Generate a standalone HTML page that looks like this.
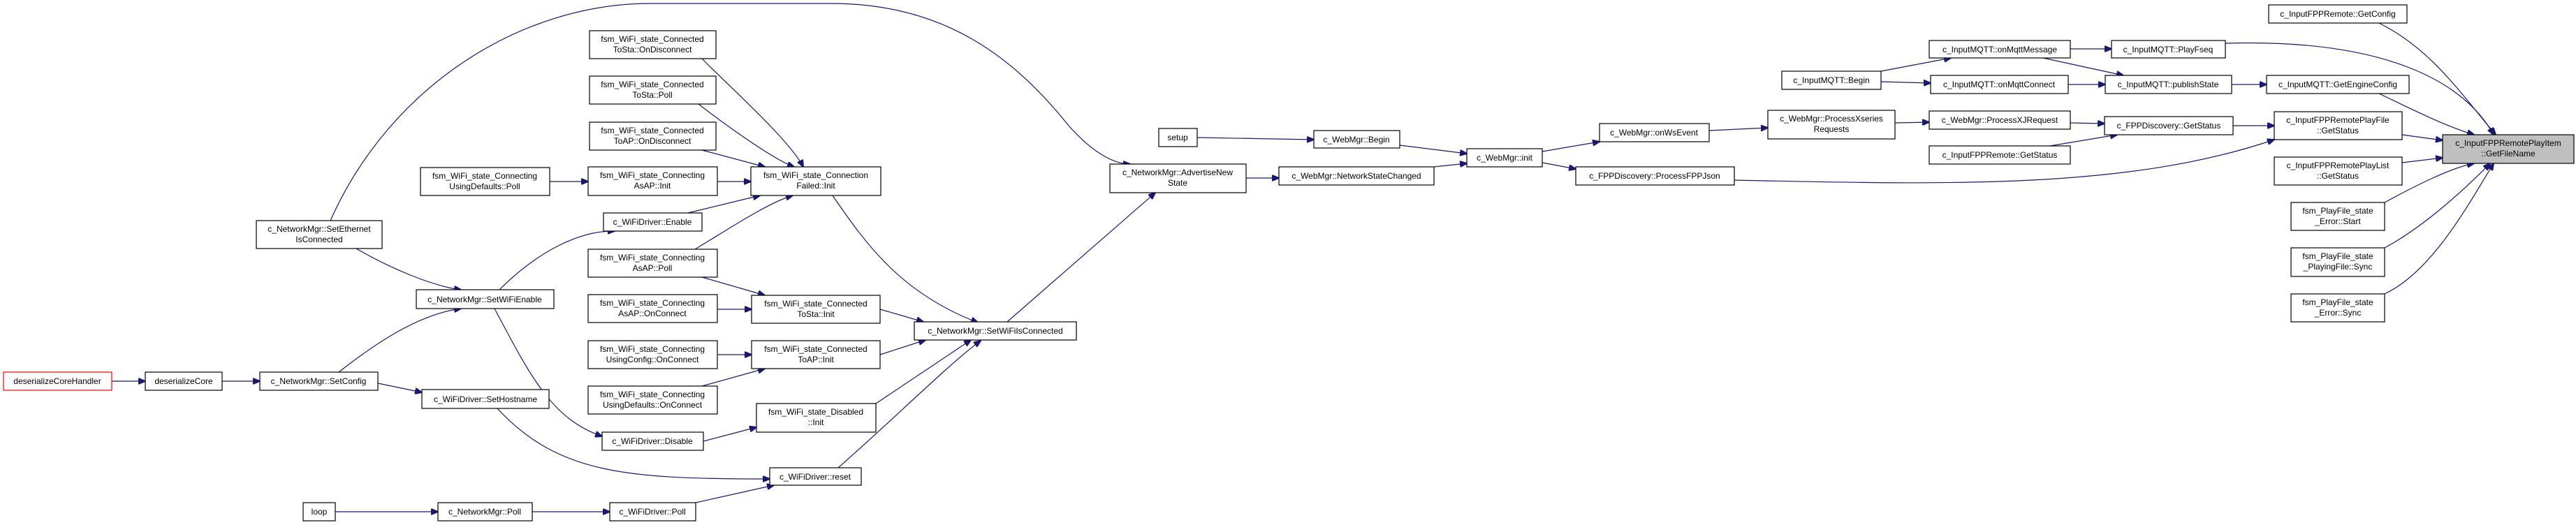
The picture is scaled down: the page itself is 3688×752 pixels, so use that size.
<!DOCTYPE html>
<html><head><meta charset="utf-8"><style>
html,body{margin:0;padding:0;background:#fff;}
svg{display:block;}
text{font-family:"Liberation Sans",Arial,sans-serif;font-size:12px;fill:#000;text-anchor:middle;}
rect{fill:#fff;stroke:#000;stroke-width:1.2;}
path{fill:none;stroke:#191970;stroke-width:1.2;}
</style></head><body>
<svg width="3688" height="752" viewBox="0 0 3688 752" xmlns="http://www.w3.org/2000/svg">
<defs><marker id="a" markerWidth="11" markerHeight="9" refX="10" refY="4.5" orient="auto" markerUnits="userSpaceOnUse"><path d="M0,0 L11,4.5 L0,9 Z" style="fill:#191970;stroke:#191970"/></marker></defs>
<g marker-end="url(#a)">
<path d="M160,546 L208,546"/>
<path d="M318,546 L372,546"/>
<path d="M485,533 C540,490 600,450 660,442"/>
<path d="M541,549 L604,562"/>
<path d="M510,356 C560,385 620,410 660,415"/>
<path d="M473,316 C560,120 750,5 930,5 L1190,5 C1350,5 1450,80 1530,180 C1570,225 1600,235 1618,235"/>
<path d="M715,415 C770,360 830,330 880,331"/>
<path d="M708,442 C760,540 790,600 862,625"/>
<path d="M712,585 C800,680 900,686 1102,686"/>
<path d="M480,733 L627,733"/>
<path d="M762,733 L873,733"/>
<path d="M996,720 L1108,695"/>
<path d="M787,260 L842,260"/>
<path d="M1027,260 L1075,260"/>
<path d="M1005,84 C1040,120 1130,200 1150,239"/>
<path d="M1000,149 C1040,180 1110,230 1137,239"/>
<path d="M1005,215 L1095,239"/>
<path d="M985,305 L1088,280"/>
<path d="M995,357 C1040,330 1100,290 1135,280"/>
<path d="M1005,397 L1095,423"/>
<path d="M1027,443 L1076,443"/>
<path d="M1027,508 L1076,508"/>
<path d="M1005,553 L1095,528"/>
<path d="M1007,632 L1083,612"/>
<path d="M1192,280 C1240,350 1290,420 1400,462"/>
<path d="M1260,443 L1322,461"/>
<path d="M1260,508 L1325,487"/>
<path d="M1254,578 L1390,487"/>
<path d="M1200,670 C1280,600 1360,520 1404,488"/>
<path d="M1442,461 L1654,276"/>
<path d="M1784,255 L1831,255"/>
<path d="M2053,239 L2100,234"/>
<path d="M1714,197 L1881,200"/>
<path d="M2004,208 L2100,220"/>
<path d="M2208,217 L2290,203"/>
<path d="M2208,233 L2256,242"/>
<path d="M2447,187 L2531,183"/>
<path d="M2713,176 L2762,175"/>
<path d="M2964,176 L3013,177"/>
<path d="M2935,209 L3031,193"/>
<path d="M3197,180 L3256,180"/>
<path d="M2483,258 C2800,265 3050,270 3256,200"/>
<path d="M3439,193 L3497,201"/>
<path d="M3439,233 L3497,226"/>
<path d="M2693,102 L2793,83"/>
<path d="M2693,117 L2764,119"/>
<path d="M2964,70 L3023,70"/>
<path d="M2925,83 L3040,108"/>
<path d="M2961,121 L3014,121"/>
<path d="M3195,121 L3245,121"/>
<path d="M3186,62 C3420,55 3530,120 3570,193"/>
<path d="M3406,33 C3480,70 3520,130 3573,193"/>
<path d="M3406,134 C3460,160 3500,180 3542,193"/>
<path d="M3414,290 C3460,265 3510,240 3542,234"/>
<path d="M3414,355 C3470,325 3530,270 3565,234"/>
<path d="M3414,421 C3480,390 3530,300 3570,234"/>
</g>
<g>
<rect x="5" y="533" width="155" height="26" style="stroke:#f00"/><text x="82" y="550">deserializeCoreHandler</text>
<rect x="208" y="533" width="110" height="26"/><text x="263" y="550">deserializeCore</text>
<rect x="372" y="533" width="169" height="26"/><text x="456" y="550">c_NetworkMgr::SetConfig</text>
<rect x="604" y="558" width="182" height="27"/><text x="695" y="576">c_WiFiDriver::SetHostname</text>
<rect x="596" y="415" width="197" height="27"/><text x="694" y="433">c_NetworkMgr::SetWiFiEnable</text>
<rect x="367" y="316" width="180" height="40"/><text x="457" y="332">c_NetworkMgr::SetEthernet</text><text x="457" y="347">IsConnected</text>
<rect x="602" y="240" width="185" height="40"/><text x="694" y="256">fsm_WiFi_state_Connecting</text><text x="694" y="271">UsingDefaults::Poll</text>
<rect x="844" y="44" width="181" height="40"/><text x="934" y="60">fsm_WiFi_state_Connected</text><text x="934" y="75">ToSta::OnDisconnect</text>
<rect x="844" y="109" width="181" height="40"/><text x="934" y="125">fsm_WiFi_state_Connected</text><text x="934" y="140">ToSta::Poll</text>
<rect x="844" y="175" width="181" height="40"/><text x="934" y="191">fsm_WiFi_state_Connected</text><text x="934" y="206">ToAP::OnDisconnect</text>
<rect x="842" y="239" width="185" height="41"/><text x="934" y="255">fsm_WiFi_state_Connecting</text><text x="934" y="270">AsAP::Init</text>
<rect x="864" y="305" width="141" height="26"/><text x="934" y="322">c_WiFiDriver::Enable</text>
<rect x="842" y="357" width="185" height="40"/><text x="934" y="373">fsm_WiFi_state_Connecting</text><text x="934" y="388">AsAP::Poll</text>
<rect x="842" y="422" width="185" height="40"/><text x="934" y="438">fsm_WiFi_state_Connecting</text><text x="934" y="453">AsAP::OnConnect</text>
<rect x="842" y="488" width="185" height="40"/><text x="934" y="504">fsm_WiFi_state_Connecting</text><text x="934" y="519">UsingConfig::OnConnect</text>
<rect x="842" y="553" width="185" height="40"/><text x="934" y="569">fsm_WiFi_state_Connecting</text><text x="934" y="584">UsingDefaults::OnConnect</text>
<rect x="862" y="619" width="145" height="26"/><text x="934" y="636">c_WiFiDriver::Disable</text>
<rect x="1075" y="239" width="186" height="41"/><text x="1168" y="255">fsm_WiFi_state_Connection</text><text x="1168" y="270">Failed::Init</text>
<rect x="1076" y="423" width="184" height="40"/><text x="1168" y="439">fsm_WiFi_state_Connected</text><text x="1168" y="454">ToSta::Init</text>
<rect x="1076" y="488" width="184" height="40"/><text x="1168" y="504">fsm_WiFi_state_Connected</text><text x="1168" y="519">ToAP::Init</text>
<rect x="1083" y="578" width="171" height="41"/><text x="1168" y="594">fsm_WiFi_state_Disabled</text><text x="1168" y="609">::Init</text>
<rect x="1102" y="670" width="131" height="25"/><text x="1167" y="687">c_WiFiDriver::reset</text>
<rect x="434" y="720" width="46" height="26"/><text x="457" y="737">loop</text>
<rect x="627" y="720" width="135" height="26"/><text x="694" y="737">c_NetworkMgr::Poll</text>
<rect x="873" y="720" width="123" height="26"/><text x="934" y="737">c_WiFiDriver::Poll</text>
<rect x="1589" y="235" width="195" height="41"/><text x="1686" y="251">c_NetworkMgr::AdvertiseNew</text><text x="1686" y="266">State</text>
<rect x="1309" y="461" width="232" height="26"/><text x="1425" y="478">c_NetworkMgr::SetWiFiIsConnected</text>
<rect x="1659" y="184" width="55" height="26"/><text x="1686" y="201">setup</text>
<rect x="1881" y="187" width="123" height="25"/><text x="1942" y="204">c_WebMgr::Begin</text>
<rect x="1831" y="239" width="222" height="26"/><text x="1942" y="256">c_WebMgr::NetworkStateChanged</text>
<rect x="2100" y="213" width="108" height="26"/><text x="2154" y="230">c_WebMgr::init</text>
<rect x="2290" y="177" width="157" height="26"/><text x="2368" y="194">c_WebMgr::onWsEvent</text>
<rect x="2256" y="239" width="227" height="26"/><text x="2369" y="256">c_FPPDiscovery::ProcessFPPJson</text>
<rect x="3248" y="7" width="198" height="26"/><text x="3347" y="24">c_InputFPPRemote::GetConfig</text>
<rect x="2762" y="58" width="202" height="25"/><text x="2863" y="75">c_InputMQTT::onMqttMessage</text>
<rect x="3023" y="58" width="163" height="25"/><text x="3104" y="75">c_InputMQTT::PlayFseq</text>
<rect x="2551" y="102" width="142" height="26"/><text x="2622" y="119">c_InputMQTT::Begin</text>
<rect x="2764" y="108" width="197" height="26"/><text x="2862" y="125">c_InputMQTT::onMqttConnect</text>
<rect x="3014" y="108" width="181" height="26"/><text x="3104" y="125">c_InputMQTT::publishState</text>
<rect x="3245" y="108" width="204" height="26"/><text x="3347" y="125">c_InputMQTT::GetEngineConfig</text>
<rect x="2531" y="158" width="182" height="41"/><text x="2622" y="174">c_WebMgr::ProcessXseries</text><text x="2622" y="189">Requests</text>
<rect x="2762" y="159" width="202" height="26"/><text x="2863" y="176">c_WebMgr::ProcessXJRequest</text>
<rect x="3013" y="167" width="184" height="26"/><text x="3105" y="184">c_FPPDiscovery::GetStatus</text>
<rect x="2762" y="209" width="202" height="26"/><text x="2863" y="226">c_InputFPPRemote::GetStatus</text>
<rect x="3256" y="160" width="183" height="40"/><text x="3347" y="176">c_InputFPPRemotePlayFile</text><text x="3347" y="191">::GetStatus</text>
<rect x="3497" y="193" width="188" height="41" style="fill:#bfbfbf"/><text x="3591" y="209">c_InputFPPRemotePlayItem</text><text x="3591" y="224">::GetFileName</text>
<rect x="3256" y="225" width="183" height="40"/><text x="3347" y="241">c_InputFPPRemotePlayList</text><text x="3347" y="256">::GetStatus</text>
<rect x="3280" y="290" width="134" height="40"/><text x="3347" y="306">fsm_PlayFile_state</text><text x="3347" y="321">_Error::Start</text>
<rect x="3280" y="355" width="134" height="41"/><text x="3347" y="371">fsm_PlayFile_state</text><text x="3347" y="386">_PlayingFile::Sync</text>
<rect x="3280" y="421" width="134" height="40"/><text x="3347" y="437">fsm_PlayFile_state</text><text x="3347" y="452">_Error::Sync</text>
</g>
</svg>
</body></html>
